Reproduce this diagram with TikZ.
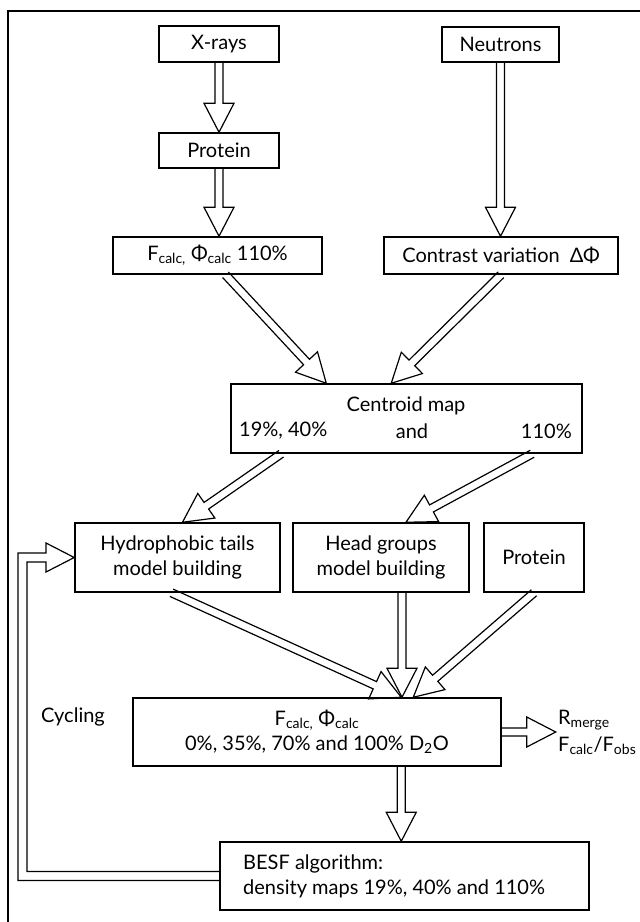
\documentclass[tikz,border=0pt]{standalone}
\usepackage{fontspec}
\setmainfont{Lato}
\usetikzlibrary{calc}
\newcommand{\blockarr}[2]{%
  \coordinate (bh) at ($(#2)!29pt!(#1)$);
  \draw[bar] ($(#1)!4pt!90:(#2)$) -- ($(bh)!4pt!90:(#2)$) -- ($(bh)!15pt!90:(#2)$) -- (#2)
    -- ($(bh)!15pt!-90:(#2)$) -- ($(bh)!4pt!-90:(#2)$) -- ($(#1)!4pt!-90:(#2)$);
}
\tikzset{
  box/.style={draw, line width=1.5pt, inner sep=0pt, align=center, font=\fontsize{20}{25}\selectfont},
  lbl/.style={inner sep=0pt, font=\fontsize{20}{25}\selectfont},
  bar/.style={draw, line width=1.2pt, line join=miter},
  frame/.style={draw, line width=1.5pt},
}
\begin{document}
\begin{tikzpicture}[x=1pt, y=-1pt]
\useasboundingbox (0,0) rectangle (640,922);
\draw[frame] (8,922) -- (8,11) -- (640,11);

\node[box, minimum width=120pt, minimum height=36pt] (xr) at (219,44) {X-rays};
\node[box, minimum width=117pt, minimum height=35pt] (nt) at (500.5,44.5) {Neutrons};
\node[box, minimum width=120pt, minimum height=35pt] (pr) at (219,150.5) {Protein};
\node[box, minimum width=209pt, minimum height=37pt] (fc) at (217.5,255.5) {F\textsubscript{calc,} Φ\textsubscript{calc} 110\%};
\node[box, minimum width=234pt, minimum height=37pt] (cv) at (501,255.5) {Contrast variation\enspace ΔΦ};
\node[box, minimum width=351pt, minimum height=69pt] (cm) at (406.5,418.5) {};
\node[lbl] (cmt) at (406,406) {Centroid map};
\node[lbl, anchor=west] (cma) at (239,431) {19\%, 40\%};
\node[lbl] (cmb) at (412,431) {and};
\node[lbl, anchor=east] (cmc) at (572,431) {110\%};
\node[box, minimum width=205pt, minimum height=69pt] (hy) at (177.5,557.5) {Hydrophobic tails\\model building};
\node[box, minimum width=176pt, minimum height=69pt] (hg) at (381,557.5) {Head groups\\model building};
\node[box, minimum width=100pt, minimum height=69pt] (pq) at (534,557.5) {Protein};
\node[box, minimum width=368pt, minimum height=68pt] (fd) at (317,732) {F\textsubscript{calc,} Φ\textsubscript{calc}\\0\%, 35\%, 70\% and 100\% D\textsubscript{2}O};
\node[box, minimum width=369pt, minimum height=68pt] (be) at (404.5,876) {};
\node[lbl, anchor=west, align=left] (bet) at (243,876) {BESF algorithm:\\density maps 19\%, 40\% and 110\%};
\node[lbl] (cyc) at (73,717) {Cycling};
\node[lbl, anchor=base west] (rm) at (558,724) {R\textsubscript{merge}};
\node[lbl, anchor=base west] (fo) at (558,751) {F\textsubscript{calc}/F\textsubscript{obs}};

% arrows
\coordinate (t1) at (xr.south |- pr.north);
\blockarr{xr.south}{t1}
\coordinate (t2) at (pr.south |- fc.north);
\blockarr{pr.south}{t2}
\coordinate (t3) at (nt.south |- cv.north);
\blockarr{nt.south}{t3}
\coordinate (s4) at ($(fc.south)+(8,0)$);
\coordinate (t4) at ($(cm.north west)+(96,0)$);
\blockarr{s4}{t4}
\coordinate (t5) at ($(cm.north west)+(161,0)$);
\blockarr{cv.south}{t5}
\coordinate (s6) at ($(cm.south west)+(51,0)$);
\coordinate (t6) at ($(hy.north)+(5,0)$);
\blockarr{s6}{t6}
\coordinate (s7) at ($(cm.south west)+(302,0)$);
\coordinate (t7) at ($(hg.north)+(25,0)$);
\blockarr{s7}{t7}
\coordinate (s8) at ($(hy.south)+(-6,0)$);
\coordinate (t8) at ($(fd.north west)+(269,0)$);
\blockarr{s8}{t8}
\coordinate (s9) at ($(hg.south)+(21,0)$);
\coordinate (t9) at (s9 |- fd.north);
\blockarr{s9}{t9}
\coordinate (t10) at ($(fd.north west)+(281,0)$);
\blockarr{pq.south}{t10}
\coordinate (s11) at ($(fd.south west)+(269,0)$);
\coordinate (t11) at (s11 |- be.north);
\blockarr{s11}{t11}
\coordinate (t12) at ($(fd.east)+(54,0)$);
\blockarr{fd.east}{t12}

% cycling feedback arrow
\draw[bar] ($(be.west)+(0,4.5)$) -- (18,880.5) -- (18,553) -- (46,553) -- (46,543)
  -- (hy.west) -- (46,572) -- (46,562) -- (27,562) -- (27,871.5) -- ($(be.west)+(0,-4.5)$);
\end{tikzpicture}
\end{document}
